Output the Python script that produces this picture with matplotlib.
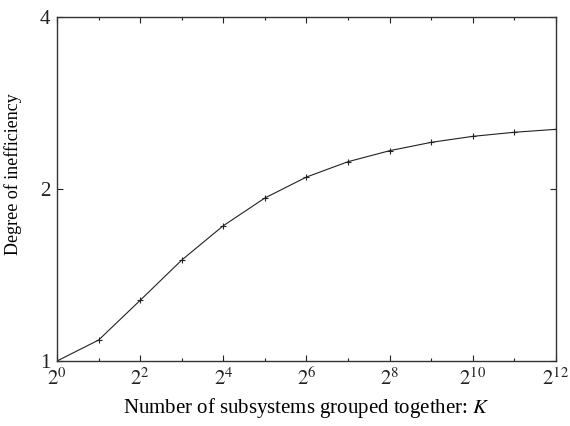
import numpy as np
import matplotlib
matplotlib.use("Agg")
import matplotlib.pyplot as plt
from matplotlib.ticker import FixedLocator, FuncFormatter, NullFormatter

plt.rcParams['font.family'] = ['Liberation Serif', 'DejaVu Serif']
plt.rcParams['mathtext.fontset'] = 'stix'

# group size K (as powers of two) and degree of inefficiency
exponents = [0, 1, 2, 3, 4, 5, 6, 7, 8, 9, 10, 11, 12]
inefficiency = [1.0, 1.088, 1.277, 1.502, 1.725, 1.929, 2.099,
                2.233, 2.334, 2.414, 2.473, 2.514, 2.544]

K = [2 ** e for e in exponents]

fig = plt.figure(figsize=(5.7, 4.26), dpi=100)
ax = fig.add_axes([0.1, 0.1526, 0.8754, 0.8074])

ax.plot(K, inefficiency, color='#222222', linewidth=0.8,
        marker='+', markersize=5, markeredgewidth=0.8)

ax.set_xscale('log', base=2)
ax.set_yscale('log', base=2)
ax.set_xlim(1, 2 ** 12)
ax.set_ylim(1, 4)

ax.xaxis.set_major_locator(FixedLocator([2 ** e for e in range(0, 13, 2)]))
ax.xaxis.set_minor_locator(FixedLocator([2 ** e for e in range(1, 13, 2)]))
ax.xaxis.set_major_formatter(FuncFormatter(lambda v, p: r'$2^{%d}$' % round(np.log2(v))))
ax.xaxis.set_minor_formatter(NullFormatter())
ax.yaxis.set_major_locator(FixedLocator([1, 2, 4]))
ax.yaxis.set_major_formatter(FuncFormatter(lambda v, p: '%d' % v))
ax.yaxis.set_minor_locator(FixedLocator([]))

ax.tick_params(which='both', direction='in', top=True, right=True,
               labelsize=15, colors='#222222', width=0.8)
ax.tick_params(which='major', length=4, pad=5)
ax.tick_params(which='minor', length=2.5)
for s in ax.spines.values():
    s.set_linewidth(1.0)
    s.set_color('#333333')

ax.set_xlabel(r'Number of subsystems grouped together: $K$', fontsize=15, labelpad=4)
ax.set_ylabel('Degree of inefficiency', fontsize=13, labelpad=6)
ax.yaxis.set_label_coords(-0.07, 0.544)

fig.savefig('out.png', dpi=100)
